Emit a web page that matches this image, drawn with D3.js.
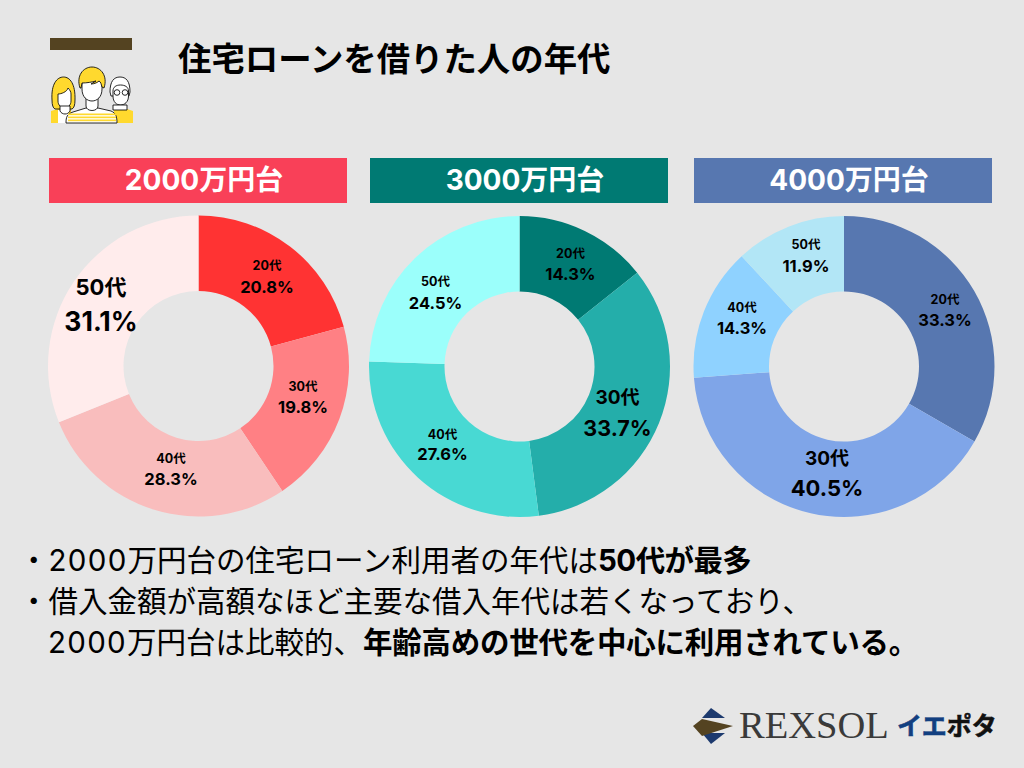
<!DOCTYPE html>
<html lang="ja"><head><meta charset="utf-8">
<script src="https://cdn.jsdelivr.net/npm/d3@7"></script>
<style>html,body{margin:0;padding:0;background:#e6e6e6}svg{display:block}text{font-family:Inter,"Noto Sans CJK JP","Noto Sans",sans-serif}</style>
</head><body><svg id="c" width="1024" height="768"></svg>
<script>
const title = "住宅ローンを借りた人の年代";
const groups = ["2000万円台","3000万円台","4000万円台"];
const ages = ["20代","30代","40代","50代"];
const values2000 = [20.8,19.8,28.3,31.1];
const values3000 = [14.3,33.7,27.6,24.5];
const values4000 = [33.3,40.5,14.3,11.9];
const colors2000 = ["#ff3333","#ff8084","#f9bdbd","#ffecec"];
const colors3000 = ["#007a73","#24aeaa","#48d9d3","#9bfffb"];
const colors4000 = ["#5777b0","#7fa5e8","#8fd2ff","#b2e6f6"];
const headColors = ["#f94058","#007a73","#5777b0"];
const allValues = [values2000,values3000,values4000];
const allColors = [colors2000,colors3000,colors4000];
// layout
const centers = [[198.5,366],[519.5,366.5],[844,366.5]];
const heads = [[49,158,298,45],[370,158,298,45],[694,158,298,45]];
const outer = 150.5, inner = 75;
const ageSizes = [[12.5,12.5,12.5,22],[12.5,19,12.5,12.5],[12.5,19,12.5,12.5]];
const pctSizes = [[16.5,16.5,16.5,26.5],[16.5,21.5,16.5,16.5],[16.5,22,16.5,16.5]];
const labelPos = [
 [[68.5,-101,-79],[104.5,20,41],[-27.5,92,113],[-97.5,-79,-45]],
 [[51,-113,-92],[98,31,62],[-77,68,88],[-84,-85,-63]],
 [[101,-67,-46],[-17,92,122],[-102,-59,-38],[-38,-122,-100]]];
const svg = d3.select("#c");
svg.append("rect").attr("width",1024).attr("height",768).attr("fill","#e6e6e6");
svg.append("rect").attr("x",50).attr("y",38).attr("width",82).attr("height",12).attr("fill","#544321");
svg.append("text").attr("x",178).attr("y",71).attr("font-size",33.4).attr("font-weight",700).attr("fill","#000").text(title);

// icon
const ic = svg.append("g").attr("stroke","#111").attr("stroke-width",0.9);
ic.append("path").attr("d","M51 123V111l10-3h10v15z").attr("fill","#ffd92e").attr("stroke","none");
ic.append("path").attr("d","M133 123V111l-9-3h-10v15z").attr("fill","#ffd92e").attr("stroke","none");
ic.append("path").attr("d","M58 123v-13h10l4 13z").attr("fill","#fff").attr("stroke","none");
ic.append("path").attr("d","M52 100c-1-16 5-23 11.500-23s12 7 11.500 23c0 5-1 8-3 9H55c-2-1-3-4-3-9z").attr("fill","#ffd92e");
ic.append("path").attr("d","M58 101v-7c3 0 9-2 10-6 2 2 3 4 3 6v7c0 4-3 7-6.500 7s-6.500-3-6.500-7z").attr("fill","#fff");
ic.append("path").attr("d","M60 106v5c2 4 8 4 10 0v-5z").attr("fill","#fff");
ic.append("path").attr("d","M110 92c0-11 4-15 10-15s10 4 10 15l-1 4h-18z").attr("fill","#fff");
ic.append("path").attr("d","M113 91c0-4 3-6 7.500-6s8 2 8 6v5c0 6-4 9-8 9s-7.500-3-7.500-9z").attr("fill","#fff");
ic.append("path").attr("d","M113 105v5h14v-5z").attr("fill","#fff");
ic.append("circle").attr("cx",117).attr("cy",92.500).attr("r",2.800).attr("fill","none");
ic.append("circle").attr("cx",125).attr("cy",92.500).attr("r",2.800).attr("fill","none");
ic.append("path").attr("d","M66 123c0-6 1-9 7-11l13-4h12l13 3c5 2 6 6 6 12z").attr("fill","#fff");
ic.selectAll("rect.st").data([113.500,116.500,119.500]).join("rect").attr("x",68).attr("y",d=>d).attr("width",48).attr("height",1.700).attr("fill","#ffd92e").attr("stroke","none");
ic.append("path").attr("d","M86 97v9c0 6 12 6 12 0v-9z").attr("fill","#fff");
ic.append("path").attr("d","M82 80h20v9c0 8-5 12-10 12s-10-4-10-12z").attr("fill","#fff");
ic.append("path").attr("d","M80 88c-4-12 3-21 12-21s16 9 12 21l-2-1c-1-3-1-5-3-6-1 1-4 3-8 3l5-3c-4 1-9 2-14 2l-1 5z").attr("fill","#ffd92e");

const arc = d3.arc().innerRadius(inner).outerRadius(outer);
const pie = d3.pie().sort(null);
groups.forEach((g,i)=>{
  const h = heads[i];
  svg.append("rect").attr("x",h[0]).attr("y",h[1]).attr("width",h[2]).attr("height",h[3]).attr("fill",headColors[i]);
  svg.append("text").attr("x",h[0]+h[2]/2+6).attr("y",h[1]+32).attr("text-anchor","middle").attr("font-size",28).attr("font-weight",700).attr("fill","#fff").text(g);
  const c = svg.append("g").attr("transform",`translate(${centers[i]})`);
  const arcs = pie(allValues[i]);
  c.selectAll("path").data(arcs).join("path").attr("d",arc).attr("fill",(d,j)=>allColors[i][j]);
  arcs.forEach((d,j)=>{
    const p = labelPos[i][j];
    c.append("text").attr("x",p[0]).attr("y",p[1]).attr("dy","0.36em").attr("text-anchor","middle").attr("font-size",ageSizes[i][j]).attr("font-weight",700).attr("fill","#000").text(ages[j]);
    c.append("text").attr("x",p[0]).attr("y",p[2]).attr("dy","0.36em").attr("text-anchor","middle").attr("font-size",pctSizes[i][j]).attr("font-weight",700).attr("fill","#000").text(d.value.toFixed(1)+"%");
  });
});
// bullets
const lines = [
 [[19,570.5],[["・",400,0],["2000",400,1.3],["万円台の住宅ローン利用者の年代は",400,0],["50代が最多",700,-0.6]]],
 [[19,611.5],[["・借入金額が高額なほど主要な借入年代は若くなっており、",400,0]]],
 [[48,652.5],[["2000",400,1.3],["万円台は比較的、",400,0],["年齢高めの世代を中心に利用されている。",700,-0.25]]]];
lines.forEach(l=>{
  const t = svg.append("text").attr("x",l[0][0]).attr("y",l[0][1]).attr("font-size",29.5).attr("fill","#000");
  l[1].forEach(s=>t.append("tspan").attr("font-weight",s[1]).attr("letter-spacing",s[2]).text(s[0]));
});
// logo
const lg = svg.append("g");
lg.append("path").attr("d","M711 708l14 10h-23z").attr("fill","#1d3a6e");
lg.append("path").attr("d","M702 733h23l-14 11z").attr("fill","#1d3a6e");
lg.append("path").attr("d","M693 726l9-7 31 7-31 10z").attr("fill","#544321");
svg.append("text").attr("x",739).attr("y",738).attr("font-size",38.5).attr("style","font-family:'Liberation Serif',serif").attr("fill","#3a3a3a").text("REXSOL");
const e = svg.append("text").attr("x",897).attr("y",735).attr("font-size",25).attr("font-weight",700).attr("stroke-width",0.6);
e.append("tspan").attr("fill","#123f80").attr("stroke","#123f80").text("イエ");
e.append("tspan").attr("fill","#111").attr("stroke","#111").text("ポタ");
</script></body></html>
